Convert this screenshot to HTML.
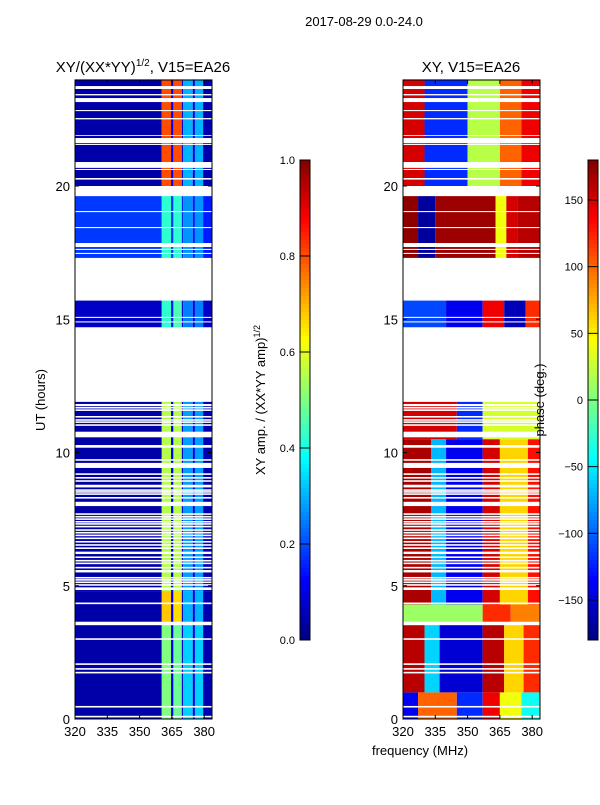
<!DOCTYPE html>
<html><head><meta charset="utf-8"><style>
body{margin:0;background:#fff;width:600px;height:800px;overflow:hidden}
svg text{font-family:"Liberation Sans","DejaVu Sans",sans-serif;fill:#000}
</style></head><body>
<svg id="fig" width="600" height="800" xmlns="http://www.w3.org/2000/svg">
<text x="364" y="26" font-size="13" text-anchor="middle">2017-08-29 0.0-24.0</text>
<text x="143" y="72" font-size="15" text-anchor="middle">XY/(XX*YY)<tspan font-size="10" dy="-6">1/2</tspan><tspan dy="6">, V15=EA26</tspan></text>
<text x="471" y="72" font-size="15" text-anchor="middle">XY, V15=EA26</text>
<text transform="translate(45,400) rotate(-90)" font-size="13" text-anchor="middle">UT (hours)</text>
<text x="420" y="755" font-size="13" text-anchor="middle">frequency (MHz)</text>
<text transform="translate(265,400) rotate(-90)" font-size="13" text-anchor="middle">XY amp. / (XX*YY amp)<tspan font-size="9" dy="-5">1/2</tspan></text>
<g id="plots"></g>
<text transform="translate(544,400) rotate(-90)" font-size="13" text-anchor="middle">phase (deg.)</text>
</svg>
<script>
// data segments (hours) where observations exist
const segments = [[0,11.9],[14.7,15.7],[17.3,19.7],[19.7,24]];
// white gaps (hours)
const gaps = [[0.06,0.12],[0.43,0.49],[1.71,1.77],[1.85,1.91],[2.03,2.09],[2.97,3.03],[3.52,3.65],[4.31,4.37],
[4.84,4.94],[5.0,5.06],[5.1,5.16],[5.19,5.25],[5.27,5.33],[5.5,5.59],[5.65,5.71],[5.81,5.87],[5.91,5.97],[6.04,6.1],
[6.19,6.28],[6.38,6.44],[6.5,6.56],[6.62,6.68],[6.75,6.81],[6.86,6.92],[6.96,7.02],[7.06,7.12],[7.19,7.25],[7.29,7.35],
[7.37,7.43],[7.47,7.53],[7.56,7.62],[7.66,7.72],[7.99,8.15],[8.27,8.33],[8.41,8.47],[8.49,8.55],[8.56,8.62],[8.69,8.79],
[8.9,8.96],[9.02,9.08],[9.16,9.22],[9.42,9.61],[9.69,9.75],[10.18,10.28],[10.57,10.78],[11.0,11.06],[11.11,11.17],
[11.19,11.25],[11.31,11.37],[11.56,11.62],[11.65,11.71],[11.74,11.82],[14.88,14.92],[15.05,15.09],[17.26,17.3],
[17.45,17.49],[17.6,17.64],[17.71,17.86],[18.42,18.46],[19.02,19.06],[19.62,20.0],[20.24,20.3],[20.6,20.64],[20.68,20.9],
[21.54,21.58],[21.61,21.8],[21.88,21.91],[22.5,22.55],[22.81,22.85],[23.15,23.3],[23.4,23.45],[23.64,23.75]];
// amplitude regions: time range, frequency edges, amplitude per band
const ampTimes = [[0,3.55],[3.55,4.8],[4.8,11.9],[14.7,15.7],[17.3,19.7],[19.7,24]];
const ampEdges = [320,360.3,364.6,365.7,369.6,370.2,374.7,375.7,379.5,384];
const ampValues = [
 [0.04,0.5,0.12,0.48,0.1,0.33,0.1,0.33,0.05],
 [0.04,0.68,0.12,0.66,0.1,0.3,0.1,0.3,0.05],
 [0.04,0.55,0.12,0.55,0.1,0.28,0.1,0.28,0.05],
 [0.07,0.42,0.15,0.45,0.1,0.25,0.1,0.25,0.07],
 [0.18,0.42,0.18,0.42,0.15,0.27,0.15,0.27,0.15],
 [0.04,0.8,0.12,0.8,0.1,0.3,0.1,0.3,0.05]];
// phase regions
const phTimes = [[0,1.0],[1.0,3.55],[3.55,4.3],[4.3,10.5],[10.5,11.9],[14.7,15.7],[17.3,19.7],[19.7,24]];
const phEdges = [
 [320,327,345,357,365,375,384],
 [320,330,337,357,367,376,384],
 [320,357,370,384],
 [320,333,340,357,365,378,384],
 [320,345,357,384],
 [320,340,357,367,377,384],
 [320,327,335,363,368,373,384],
 [320,330,350,365,375,384]];
const phValues = [
 [-140,100,-120,140,40,-40],
 [160,-60,-150,160,60,120],
 [10,120,90],
 [165,-70,-140,150,60,130],
 [150,-120,30],
 [-110,-140,140,-160,120],
 [175,-170,170,40,150,160],
 [150,-120,20,100,140]];
const ampTicks=[0,0.2,0.4,0.6,0.8,1.0];
const phTicks=[-150,-100,-50,0,50,100,150];
const hourTicks=[0,5,10,15,20];
const freqTicks=[320,335,350,365,380];

const NS="http://www.w3.org/2000/svg";
const g=document.getElementById('plots');
function jet(v){v=Math.max(0,Math.min(1,v));const c=t=>Math.round(255*Math.max(0,Math.min(1,1.5-Math.abs(4*v-t))));return `rgb(${c(3)},${c(2)},${c(1)})`;}
function el(tag,at){const e=document.createElementNS(NS,tag);for(const k in at)e.setAttribute(k,at[k]);g.appendChild(e);return e;}
const yH=h=>719-h*26.65;
const PX=2.153;
function panel(x0,name,times,edges,values,norm){
  const xf=f=>x0+(f-320)*PX;
  times.forEach((t,i)=>{
    const E=Array.isArray(edges[0])?edges[i]:edges;
    values[i].forEach((v,j)=>{
      const r=el('rect',{x:xf(E[j]),y:yH(t[1]),width:Math.min(xf(E[j+1]),x0+137)-xf(E[j]),height:yH(t[0])-yH(t[1]),fill:jet(norm(v))});
      
      
    });
  });
  gaps.forEach(gp=>{
    const r=el('rect',{x:x0,y:yH(gp[1]),width:137,height:yH(gp[0])-yH(gp[1]),fill:'#fff'});
    
    
  });
  const fr=el('rect',{x:x0,y:80,width:137,height:639,fill:'none',stroke:'#000','stroke-width':1});
  
  
  hourTicks.forEach(h=>{
    el('line',{x1:x0,x2:x0+4,y1:yH(h),y2:yH(h),stroke:'#000'});
    el('line',{x1:x0+137,x2:x0+133,y1:yH(h),y2:yH(h),stroke:'#000'});
    const tx=el('text',{x:x0-5,y:yH(h)+5,'font-size':13,'text-anchor':'end'});tx.textContent=h;
    
    
  });
  freqTicks.forEach(f=>{
    el('line',{x1:xf(f),x2:xf(f),y1:719,y2:715,stroke:'#000'});
    el('line',{x1:xf(f),x2:xf(f),y1:80,y2:84,stroke:'#000'});
    const tx=el('text',{x:xf(f),y:736,'font-size':13,'text-anchor':'middle'});tx.textContent=f;
    
    
  });
}
panel(75,'amp',ampTimes,ampEdges,ampValues,v=>v);
panel(403,'phase',phTimes,phEdges,phValues,v=>(v+180)/360);
function cbar(x,name,lo,hi,ticks){
  for(let i=0;i<120;i++){el('rect',{x:x,y:160+i*4,width:10,height:4.3,fill:jet(1-(i+0.5)/120)});}
  const fr=el('rect',{x:x,y:160,width:10,height:480,fill:'none',stroke:'#000'});
  
  
  ticks.forEach(t=>{
    const y=640-(t-lo)/(hi-lo)*480;
    el('line',{x1:x,x2:x+10,y1:y,y2:y,stroke:'#000'});
    const tx=el('text',{x:x-5,y:y+4,'font-size':11,'text-anchor':'end'});tx.textContent=(lo===0?t.toFixed(1):t).toString().replace('-','\u2212');
    
    
  });
}
cbar(300,'amp-colorbar',0,1,ampTicks);
cbar(588,'phase-colorbar',-180,180,phTicks);
</script>
</body></html>
